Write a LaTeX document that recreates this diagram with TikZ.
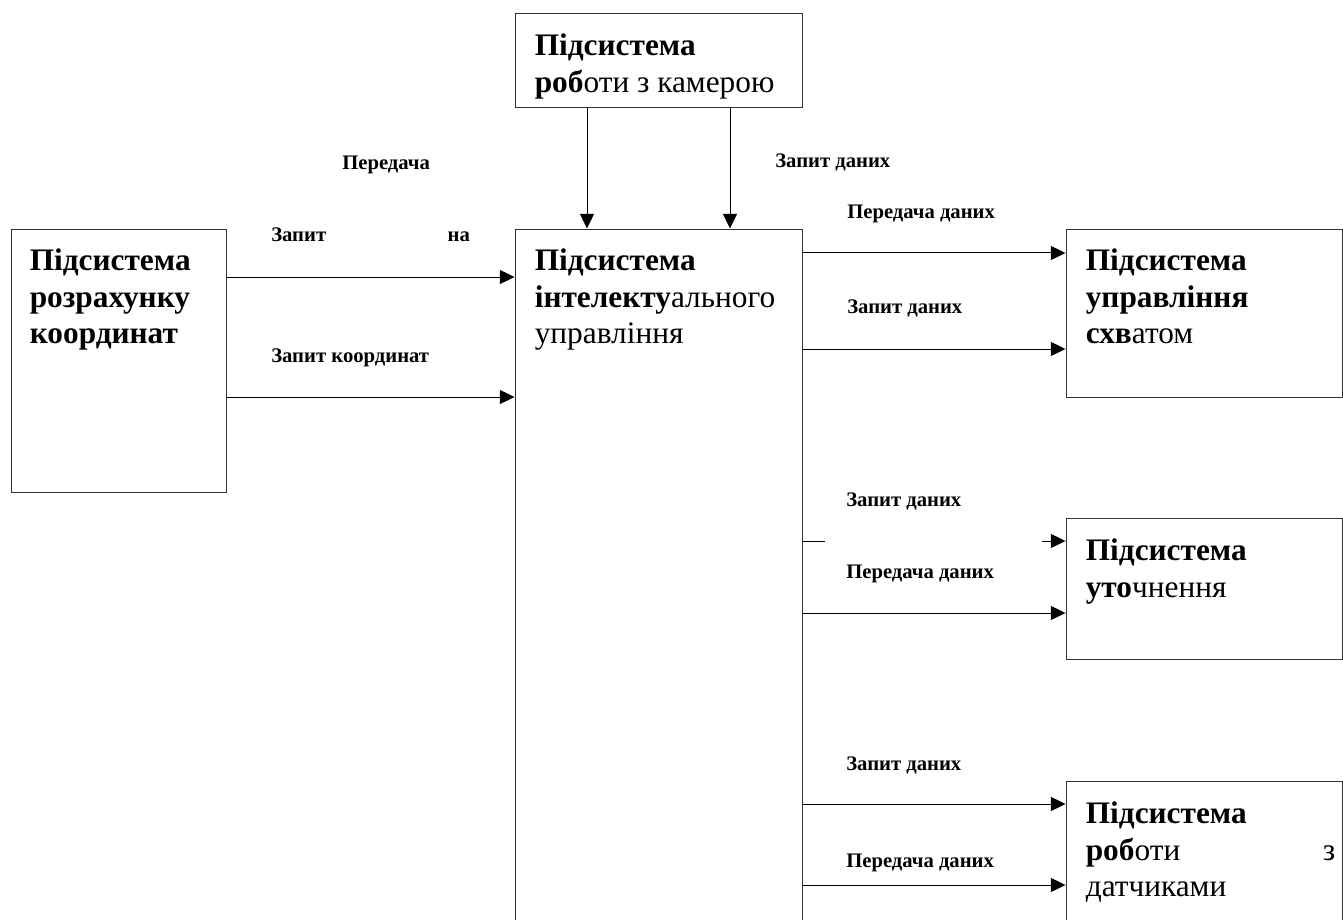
\documentclass[tikz,border=0pt]{standalone}
\usepackage{fontspec}
\setmainfont{Liberation Serif}
\usetikzlibrary{arrows.meta,fit,calc}
\tikzset{
box/.style={draw=black!80,line width=0.7pt,inner sep=0pt},
btxt/.style={anchor=north west,inner sep=0pt,align=left,font=\fontsize{23.5}{27.5}\selectfont},
lbl/.style={anchor=base west,inner sep=0pt,font=\fontsize{15.5}{17}\selectfont\bfseries},
arc/.style={-{Triangle[length=11pt,width=10.5pt]},line width=0.75pt}
}

\begin{document}
\begin{tikzpicture}[x=0.75pt,y=-0.75pt]
	\useasboundingbox (0,0) rectangle (1343,920);
	% subsystems
	\node[box,fit={(515,13) (802,107)}] (cam) {};
	\node[box,fit={(11,229) (226,492)}] (coord) {};
	\node[box,fit={(515,229) (802,960)}] (intel) {};
	\node[box,fit={(1066,229) (1342,397)}] (grip) {};
	\node[box,fit={(1066,518) (1342,659)}] (refine) {};
	\node[box,fit={(1066,781) (1342,960)}] (sens) {};

	\node[btxt] (camtxt) at ($(cam.north west)+(20,21)$) {\textbf{Підсистема}\\\textbf{роб}оти з камерою};
	\node[btxt] (coordtxt) at ($(coord.north west)+(19,20)$) {\textbf{Підсистема}\\\textbf{розрахунку}\\\textbf{координат}};
	\node[btxt] (inteltxt) at ($(intel.north west)+(20,20)$) {\textbf{Підсистема}\\\textbf{інтелекту}ального\\управління};
	\node[btxt] (griptxt) at ($(grip.north west)+(20,20)$) {\textbf{Підсистема}\\\textbf{управління}\\\textbf{схв}атом};
	\node[btxt] (refinetxt) at ($(refine.north west)+(20,21)$) {\textbf{Підсистема}\\\textbf{уто}чнення};
	\node[btxt,text width=187pt] (senstxt) at ($(sens.north west)+(20,21)$) {\textbf{Підсистема}\\\textbf{роб}оти\hfill з\\датчиками};

	% rows and columns of the arrows
	\coordinate (v1) at (587,0);
	\coordinate (v2) at (730,0);
	\foreach \n/\y in {a/277,b/397,c/253,d/349,e/613,f/804,g/885}{
		\coordinate (r\n) at (0,\y);
	}
	\coordinate (gapA) at (825,541);
	\coordinate (gapB) at (1042,541);

	% arrows
	\draw[arc] (cam.south -| v1) -- (intel.north -| v1);
	\draw[arc] (cam.south -| v2) -- (intel.north -| v2);
	\draw[arc] (coord.east |- ra) -- (intel.west |- ra);
	\draw[arc] (coord.east |- rb) -- (intel.west |- rb);
	\draw[arc] (intel.east |- rc) -- (grip.west |- rc);
	\draw[arc] (intel.east |- rd) -- (grip.west |- rd);
	\draw[line width=0.75pt] (intel.east |- gapA) -- (gapA);
	\draw[arc] (gapB) -- (refine.west |- gapB);
	\draw[arc] (intel.east |- re) -- (refine.west |- re);
	\draw[arc] (intel.east |- rf) -- (sens.west |- rf);
	\draw[arc] (intel.east |- rg) -- (sens.west |- rg);

	% labels
	\node[lbl] (l1) at (342,170) {Передача};
	\node[lbl] (l2) at (775,168) {Запит даних};
	\node[lbl] (l3) at (271,242) {\makebox[149pt][l]{Запит\hfill на}};
	\node[lbl] (l4) at (271,362) {Запит координат};
	\node[lbl] (l5) at (847,219) {Передача даних};
	\node[lbl] (l6) at (847,313) {Запит даних};
	\node[lbl] (l7) at (846,506) {Запит даних};
	\node[lbl] (l8) at (846,578) {Передача даних};
	\node[lbl] (l9) at (846,770) {Запит даних};
	\node[lbl] (l10) at (846,867) {Передача даних};
\end{tikzpicture}
\end{document}
